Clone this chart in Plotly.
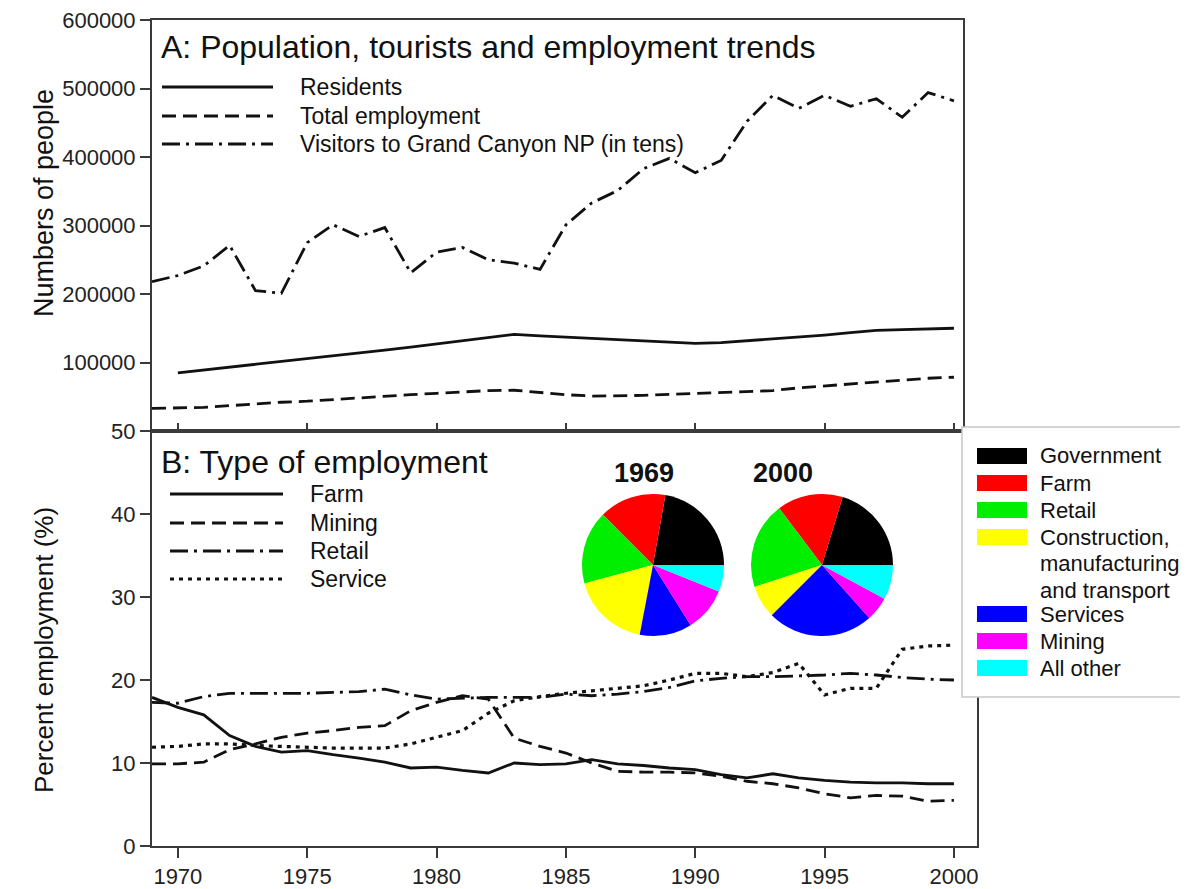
import plotly.graph_objects as go

# ---------------- data ----------------
years = [1969, 1970, 1971, 1972, 1973, 1974, 1975, 1976, 1977, 1978,
         1979, 1980, 1981, 1982, 1983, 1984, 1985, 1986, 1987, 1988,
         1989, 1990, 1991, 1992, 1993, 1994, 1995, 1996, 1997, 1998,
         1999, 2000]

residents = [None, 85000, 89000, 93500, 98000, 102000, 106000, 110000, 114000, 118000,
             122500, 127000, 132000, 137000, 141000, 139000, 137000, 135000, 133000, 131000,
             129000, 128000, 129000, 131500, 134000, 137000, 140000, 143500, 147000, 148000,
             149000, 150000]

total_employment = [33000, 33500, 34500, 37000, 40000, 42000, 43500, 46000, 49000, 51000,
                    53000, 55000, 57000, 59000, 59500, 56000, 53000, 51000, 51000, 52000,
                    53500, 55000, 56000, 57000, 59000, 63000, 66000, 69000, 72000, 75000,
                    77000, 78500]

visitors_tens = [218000, 227000, 241000, 271000, 205000, 201000, 275000, 301000, 284000, 297000,
                 231000, 261000, 268000, 250000, 245000, 236000, 301000, 333000, 351000, 383000,
                 398000, 377000, 395000, 452000, 490000, 471000, 490000, 474000, 485000, 458000,
                 494000, 482000]

farm_pct = [17.9, 16.7, 15.8, 13.3, 12.0, 11.3, 11.5, 11.0, 10.6, 10.1,
            9.4, 9.5, 9.1, 8.8, 10.0, 9.8, 9.9, 10.4, 9.9, 9.7,
            9.4, 9.2, 8.6, 8.2, 8.7, 8.2, 7.9, 7.7, 7.6, 7.6,
            7.5, 7.5]

mining_pct = [9.9, 9.9, 10.1, 11.6, 12.3, 13.1, 13.6, 13.9, 14.3, 14.5,
              16.3, 17.3, 18.1, 17.7, 13.0, 12.0, 11.2, 10.0, 9.0, 8.9,
              8.9, 8.8, 8.4, 7.8, 7.5, 7.0, 6.3, 5.8, 6.1, 6.0,
              5.4, 5.5]

retail_pct = [17.3, 17.2, 18.0, 18.4, 18.4, 18.4, 18.4, 18.5, 18.6, 18.9,
              18.2, 17.7, 17.8, 17.9, 17.9, 17.9, 18.3, 18.1, 18.3, 18.6,
              19.1, 19.9, 20.2, 20.4, 20.4, 20.5, 20.6, 20.8, 20.6, 20.3,
              20.1, 20.0]

service_pct = [11.9, 12.0, 12.3, 12.3, 12.1, 12.0, 11.9, 11.8, 11.8, 11.8,
               12.3, 13.1, 13.9, 16.0, 17.5, 18.0, 18.4, 18.7, 19.0, 19.3,
               20.0, 20.8, 20.8, 20.4, 20.9, 22.0, 18.2, 19.0, 19.0, 23.7,
               24.1, 24.2]

sectors = ["Government", "Farm", "Retail",
           "Construction, manufacturing and transport",
           "Services", "Mining", "All other"]
share_1969 = [22.2, 15.3, 16.7, 17.8, 11.9, 10.0, 6.1]
share_2000 = [20.3, 15.0, 19.7, 7.5, 24.1, 5.5, 7.9]
sector_colors = ["#000000", "#ff0000", "#00ee00", "#ffff00", "#0000ff", "#ff00ff", "#00ffff"]
sector_legend_lines = [["Government"], ["Farm"], ["Retail"],
                       ["Construction,", "manufacturing", "and transport"],
                       ["Services"], ["Mining"], ["All other"]]

x_ticks = [1970, 1975, 1980, 1985, 1990, 1995, 2000]
y_ticks_a = [100000, 200000, 300000, 400000, 500000, 600000]
y_ticks_b = [0, 10, 20, 30, 40, 50]

# ---------------- layout helpers (reference pixel -> paper) ----------------
# the page body has an 8px margin, so the figure is drawn 8px smaller
BODY = 8
W, H = 1188 - BODY, 889 - BODY
ML, MT = 152 - BODY, 20 - BODY
PLOT_R, PLOT_B = 977 - BODY, 846 - BODY
MR, MB = W - PLOT_R, H - PLOT_B
PW, PH = PLOT_R - ML, PLOT_B - MT


def fx(px):
    return (px - BODY - ML) / PW


def fy(py):
    return (PLOT_B - (py - BODY)) / PH


FONT = "Arial, Liberation Sans, sans-serif"
INK = "#111111"
FRAME = "#3a3a3a"
LW = 2.8
DASH = {"solid": "solid", "dash": "14px,7px", "dashdot": "18px,6px,3px,6px", "dot": "4px,5px"}

fig = go.Figure()

# Panel A
fig.add_trace(go.Scatter(x=years, y=residents, mode="lines", name="Residents",
                         line=dict(color=INK, width=LW, dash=DASH["solid"]),
                         xaxis="x", yaxis="y", connectgaps=False))
fig.add_trace(go.Scatter(x=years, y=total_employment, mode="lines", name="Total employment",
                         line=dict(color=INK, width=LW, dash=DASH["dash"]),
                         xaxis="x", yaxis="y"))
fig.add_trace(go.Scatter(x=years, y=visitors_tens, mode="lines",
                         name="Visitors to Grand Canyon NP (in tens)",
                         line=dict(color=INK, width=LW, dash=DASH["dashdot"]),
                         xaxis="x", yaxis="y"))

# Panel B
fig.add_trace(go.Scatter(x=years, y=farm_pct, mode="lines", name="Farm",
                         line=dict(color=INK, width=LW, dash=DASH["solid"]),
                         xaxis="x2", yaxis="y2"))
fig.add_trace(go.Scatter(x=years, y=mining_pct, mode="lines", name="Mining",
                         line=dict(color=INK, width=LW, dash=DASH["dash"]),
                         xaxis="x2", yaxis="y2"))
fig.add_trace(go.Scatter(x=years, y=retail_pct, mode="lines", name="Retail",
                         line=dict(color=INK, width=LW, dash=DASH["dashdot"]),
                         xaxis="x2", yaxis="y2"))
fig.add_trace(go.Scatter(x=years, y=service_pct, mode="lines", name="Service",
                         line=dict(color=INK, width=LW + 0.4, dash=DASH["dot"]),
                         xaxis="x2", yaxis="y2"))

# Pies: first slice (Government) sits just above 3 o'clock, others follow counterclockwise
for shares, cx, label in [(share_1969, 653, "1969"), (share_2000, 822, "2000")]:
    r = 71
    first_angle = 360.0 * shares[0] / sum(shares)
    fig.add_trace(go.Pie(labels=sectors, values=shares, sort=False,
                         direction="counterclockwise", rotation=90 - first_angle,
                         marker=dict(colors=sector_colors, line=dict(width=0)),
                         textinfo="none", showlegend=False, name=label,
                         domain=dict(x=[fx(cx - r), fx(cx + r)], y=[fy(565 + r), fy(565 - r)])))

split = fy(431)
axis_common = dict(showgrid=False, zeroline=False, showline=True, mirror=True, automargin=False,
                   ticklabeloverflow="allow",
                   linecolor=FRAME, linewidth=2, tickcolor=FRAME, tickwidth=1.5,
                   tickfont=dict(family=FONT, size=22, color="#222222"))

fig.update_layout(
    width=W, height=H,
    margin=dict(l=ML, r=MR, t=MT, b=MB, autoexpand=False),
    paper_bgcolor="white", plot_bgcolor="white",
    showlegend=False,
    font=dict(family=FONT, color=INK),
    xaxis=dict(domain=[0, fx(963)], anchor="y", range=[1969, 2000.35],
               tickvals=x_ticks, ticks="inside", ticklen=8, showticklabels=False,
               **axis_common),
    yaxis=dict(domain=[split, 1], anchor="x", range=[0, 600000],
               tickvals=y_ticks_a, ticktext=[str(v) for v in y_ticks_a],
               ticks="outside", ticklen=10, **axis_common),
    xaxis2=dict(domain=[0, 1], anchor="y2",
                range=[1969, 1969 + (2000.35 - 1969) / fx(963)],
                tickvals=x_ticks, ticks="outside", ticklen=10, **axis_common),
    yaxis2=dict(domain=[0, split], anchor="x2", range=[0, 50],
                tickvals=y_ticks_b, ticks="outside", ticklen=10, **axis_common),
)

shapes = []
annots = []

# axis titles
annots.append(dict(x=fx(27), y=fy(203), text="Numbers of people", textangle=-90,
                   font=dict(size=27, family=FONT, color=INK)))
annots.append(dict(x=fx(27), y=fy(650), text="Percent employment (%)", textangle=-90,
                   font=dict(size=26, family=FONT, color=INK)))

# panel titles
annots.append(dict(x=fx(159), y=fy(47), xanchor="left", text="A: Population, tourists and employment trends",
                   font=dict(size=32, family=FONT, color=INK)))
annots.append(dict(x=fx(159), y=fy(462), xanchor="left", text="B: Type of employment",
                   font=dict(size=32, family=FONT, color=INK)))

# line legends
leg_a = [("Residents", "solid", 87), ("Total employment", "dash", 116),
         ("Visitors to Grand Canyon NP (in tens)", "dashdot", 144)]
for name, d, py in leg_a:
    shapes.append(dict(type="line", xref="paper", yref="paper", x0=fx(162), x1=fx(273),
                       y0=fy(py), y1=fy(py), line=dict(color=INK, width=LW, dash=DASH[d])))
    annots.append(dict(x=fx(298), y=fy(py), xanchor="left", text=name,
                       font=dict(size=23, family=FONT, color=INK)))

leg_b = [("Farm", "solid", 494), ("Mining", "dash", 523), ("Retail", "dashdot", 551), ("Service", "dot", 579)]
for name, d, py in leg_b:
    shapes.append(dict(type="line", xref="paper", yref="paper", x0=fx(170), x1=fx(283),
                       y0=fy(py), y1=fy(py),
                       line=dict(color=INK, width=LW + (0.4 if d == "dot" else 0), dash=DASH[d])))
    annots.append(dict(x=fx(308), y=fy(py), xanchor="left", text=name,
                       font=dict(size=23, family=FONT, color=INK)))

# pie titles
annots.append(dict(x=fx(644), y=fy(473), text="<b>1969</b>", font=dict(size=27, family=FONT, color=INK)))
annots.append(dict(x=fx(815), y=fy(473), text="<b>2000</b>", font=dict(size=27, family=FONT, color=INK)))

# sector legend box
shapes.append(dict(type="rect", xref="paper", yref="paper", layer="above",
                   x0=fx(962), x1=fx(1200), y0=fy(697), y1=fy(427),
                   fillcolor="white", line=dict(color="#c8c8c8", width=1.5)))
row_y = [456, 483, 510, 537, 614, 641, 668]
for col, lines, py in zip(sector_colors, sector_legend_lines, row_y):
    shapes.append(dict(type="rect", xref="paper", yref="paper", layer="above",
                       x0=fx(977), x1=fx(1027), y0=fy(py + 8), y1=fy(py - 8),
                       fillcolor=col, line=dict(width=0)))
    for k, t in enumerate(lines):
        annots.append(dict(x=fx(1038), y=fy(py + 26.5 * k), xanchor="left", text=t,
                           font=dict(size=22, family=FONT, color=INK)))

for a in annots:
    a.setdefault("xref", "paper")
    a.setdefault("yref", "paper")
    a.setdefault("showarrow", False)
    a.setdefault("yanchor", "middle")

fig.update_layout(shapes=shapes, annotations=annots)

fig.write_html("out.html")
